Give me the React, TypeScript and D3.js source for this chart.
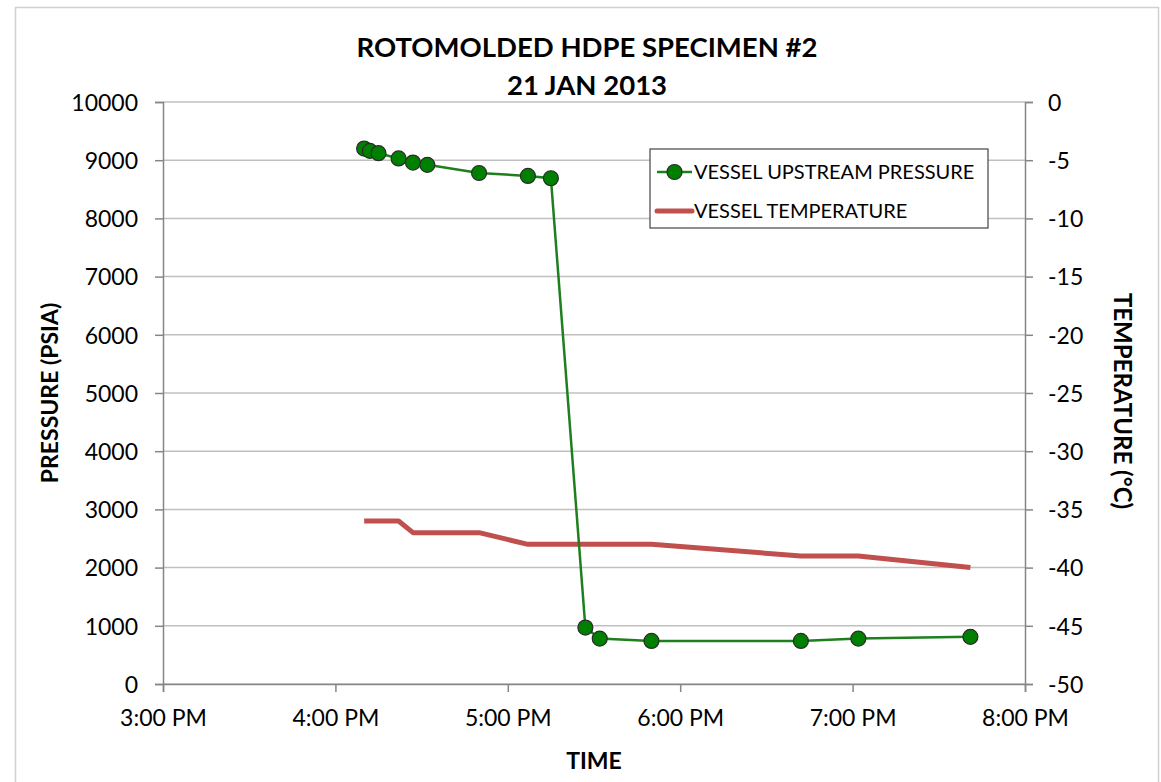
import React, { useEffect, useRef } from 'react';
import * as d3 from 'd3';

// readings, 21 Jan 2013 (24h clock)
const times = ['16:10', '16:12', '16:15', '16:22', '16:27', '16:32', '16:50', '17:07', '17:15', '17:27', '17:32', '17:50', '18:42', '19:02', '19:41'];
const pressure = [9200, 9160, 9120, 9030, 8960, 8920, 8780, 8730, 8690, 970, 780, 740, 740, 780, 810];
const temperature = [-36, -36, -36, -36, -37, -37, -37, -38, -38, -38, -38, -38, -39, -39, -40];

const xTickLabels = ['3:00 PM', '4:00 PM', '5:00 PM', '6:00 PM', '7:00 PM', '8:00 PM'];
const pressureTicks = [0, 1000, 2000, 3000, 4000, 5000, 6000, 7000, 8000, 9000, 10000];
const tempTicks = [0, -5, -10, -15, -20, -25, -30, -35, -40, -45, -50];

const seriesNames = ['VESSEL UPSTREAM PRESSURE', 'VESSEL TEMPERATURE'];

const FONT = 'Lato, "Open Sans", sans-serif';

function parseTime(s: string) {
  const [h, m] = s.split(':').map(Number);
  return new Date(2013, 0, 21, h, m);
}

function App() {
  const svgRef = useRef<SVGSVGElement>(null);

  useEffect(() => {
    const svg = d3.select(svgRef.current);
    svg.selectAll('*').remove();

    const width = 1161;
    const height = 782;
    const margin = { top: 102, right: 136, bottom: 98, left: 163 };
    const innerWidth = width - margin.left - margin.right;
    const innerHeight = height - margin.top - margin.bottom;

    const x = d3.scaleTime()
      .domain([new Date(2013, 0, 21, 15, 0), new Date(2013, 0, 21, 20, 0)])
      .range([0, innerWidth]);
    const yP = d3.scaleLinear().domain([0, 10000]).range([innerHeight, 0]);
    const yT = d3.scaleLinear().domain([-50, 0]).range([innerHeight, 0]);

    // chart frame
    svg.append('rect')
      .attr('x', 15.5).attr('y', 7.5)
      .attr('width', 1143).attr('height', 790)
      .attr('fill', 'white').attr('stroke', '#d0d0d0').attr('stroke-width', 1.5);

    const g = svg.append('g').attr('transform', `translate(${margin.left},${margin.top})`);

    // gridlines
    g.append('g')
      .selectAll('line')
      .data(pressureTicks)
      .join('line')
      .attr('x1', 0).attr('x2', innerWidth)
      .attr('y1', d => yP(d)).attr('y2', d => yP(d))
      .attr('stroke', '#c0c0c0').attr('stroke-width', 1.5);

    const styleAxis = (sel: d3.Selection<SVGGElement, unknown, null, undefined>) => {
      sel.select('.domain').attr('stroke', '#868686').attr('stroke-width', 1.5);
      sel.selectAll('.tick line').attr('stroke', '#868686').attr('stroke-width', 1.5);
      sel.selectAll('.tick text').attr('fill', '#000').style('font-family', FONT).style('font-size', '23px');
    };

    const hourTicks = x.ticks(d3.timeHour.every(1)!);

    const xAxis = g.append('g')
      .attr('transform', `translate(0,${innerHeight})`)
      .call(d3.axisBottom(x).tickValues(hourTicks).tickSize(8).tickPadding(22)
        .tickFormat((d, i) => xTickLabels[i]))
      .call(styleAxis);

    const yAxis = g.append('g')
      .call(d3.axisLeft(yP).tickValues(pressureTicks).tickSize(8).tickPadding(17).tickFormat(d => String(d)))
      .call(styleAxis);

    const tAxis = g.append('g')
      .attr('transform', `translate(${innerWidth},0)`)
      .call(d3.axisRight(yT).tickValues(tempTicks).tickSize(8).tickPadding(15).tickFormat(d => String(d)))
      .call(styleAxis);
    yAxis.selectAll('.tick text').attr('dy', '0.36em');
    tAxis.selectAll('.tick text').attr('dy', '0.36em');
    xAxis.selectAll('.tick text').attr('dy', '0.5em');

    const dates = times.map(parseTime);

    // temperature line
    const tLine = d3.line<number>()
      .x((d, i) => x(dates[i]))
      .y(d => yT(d));
    g.append('path')
      .datum(temperature)
      .attr('d', tLine)
      .attr('fill', 'none')
      .attr('stroke', '#c0504d')
      .attr('stroke-width', 5)
      .attr('stroke-linejoin', 'round');

    // pressure line + markers
    const pLine = d3.line<number>()
      .x((d, i) => x(dates[i]))
      .y(d => yP(d));
    g.append('path')
      .datum(pressure)
      .attr('d', pLine)
      .attr('fill', 'none')
      .attr('stroke', '#1e7f1e')
      .attr('stroke-width', 2.5);

    g.append('g')
      .selectAll('circle')
      .data(pressure)
      .join('circle')
      .attr('cx', (d, i) => x(dates[i]))
      .attr('cy', d => yP(d))
      .attr('r', 7.5)
      .attr('fill', '#008000')
      .attr('stroke', '#2b2b2b')
      .attr('stroke-width', 1.2);

    // legend
    const lg = svg.append('g').attr('transform', 'translate(650,149)');
    lg.append('rect')
      .attr('width', 338).attr('height', 79)
      .attr('fill', 'white').attr('stroke', '#444').attr('stroke-width', 1.2);
    lg.append('line')
      .attr('x1', 7).attr('x2', 42).attr('y1', 23).attr('y2', 23)
      .attr('stroke', '#1e7f1e').attr('stroke-width', 2.5);
    lg.append('circle')
      .attr('cx', 24.5).attr('cy', 23).attr('r', 7.5)
      .attr('fill', '#008000').attr('stroke', '#2b2b2b').attr('stroke-width', 1.2);
    lg.append('line')
      .attr('x1', 7).attr('x2', 42).attr('y1', 62).attr('y2', 62)
      .attr('stroke', '#c0504d').attr('stroke-width', 5).attr('stroke-linecap', 'round');
    lg.selectAll('text.leg')
      .data(seriesNames)
      .join('text')
      .attr('class', 'leg')
      .attr('x', 44)
      .attr('y', (d, i) => 23 + i * 39)
      .attr('dy', '0.36em')
      .style('font-family', FONT)
      .style('font-size', '20px')
      .attr('fill', '#000')
      .text(d => d);

    // titles
    const title = svg.append('text')
      .attr('x', 587).attr('text-anchor', 'middle')
      .style('font-family', FONT).style('font-size', '27.5px').style('font-weight', 'bold');
    title.append('tspan').attr('x', 587).attr('y', 57).text('ROTOMOLDED HDPE SPECIMEN #2');
    title.append('tspan').attr('x', 587).attr('y', 95).text('21 JAN 2013');

    svg.append('text')
      .attr('x', margin.left + innerWidth / 2).attr('y', 769)
      .attr('text-anchor', 'middle')
      .style('font-family', FONT).style('font-size', '23px').style('font-weight', 'bold')
      .text('TIME');

    svg.append('text')
      .attr('transform', `translate(58,${margin.top + innerHeight / 2}) rotate(-90)`)
      .attr('text-anchor', 'middle')
      .style('font-family', FONT).style('font-size', '23px').style('font-weight', 'bold')
      .text('PRESSURE (PSIA)');

    svg.append('text')
      .attr('transform', `translate(1114,${margin.top + innerHeight / 2 + 8}) rotate(90)`)
      .attr('text-anchor', 'middle')
      .style('font-family', FONT).style('font-size', '24px').style('font-weight', 'bold')
      .text('TEMPERATURE (°C)');
  }, []);

  return (
    <div style={{ position: 'absolute', left: 0, top: 0 }}>
      <svg ref={svgRef} width={1161} height={782} style={{ display: 'block' }}></svg>
    </div>
  );
}

export default App;
